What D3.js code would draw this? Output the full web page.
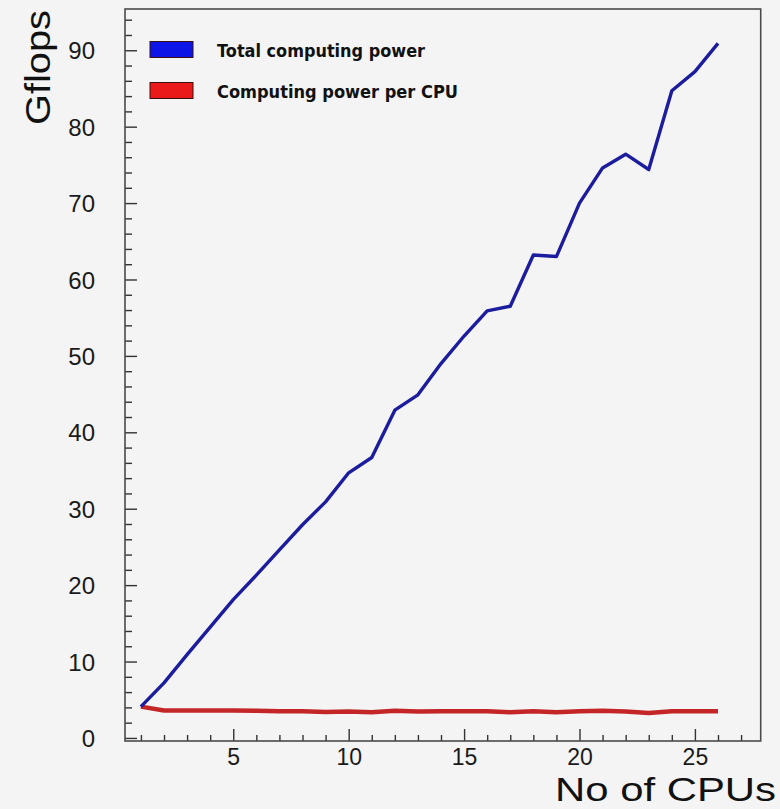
<!DOCTYPE html>
<html>
<head>
<meta charset="utf-8">
<script src="https://cdn.jsdelivr.net/npm/d3@7"></script>
<style>
  html, body { margin: 0; padding: 0; background: #f4f4f4; }
  svg { display: block; }
</style>
</head>
<body>
<svg id="chart" width="780" height="809"></svg>
<script>
// ---- data ----
const cpus = [1,2,3,4,5,6,7,8,9,10,11,12,13,14,15,16,17,18,19,20,21,22,23,24,25,26];
const totalPower = [4.1,7.2,10.9,14.5,18.1,21.3,24.6,27.9,30.9,34.7,36.7,42.9,44.9,49.0,52.6,55.9,56.5,63.2,63.0,70.0,74.6,76.4,74.4,84.7,87.2,90.9];
const perCpuPower = [4.1,3.6,3.6,3.6,3.6,3.55,3.5,3.5,3.4,3.45,3.35,3.55,3.45,3.5,3.5,3.5,3.35,3.5,3.35,3.5,3.55,3.45,3.25,3.5,3.5,3.5];
const xTickValues = [5,10,15,20,25];
const yTickValues = [0,10,20,30,40,50,60,70,80,90];
const seriesNames = ["Total computing power", "Computing power per CPU"];
const seriesColors = ["#1c1c9e", "#c42628"];
const legendFills = ["#0c14e6", "#ea1a1a"];

// ---- layout ----
const svg = d3.select("#chart");
const frame = {left: 125, right: 760.7, top: 9, bottom: 741};
const x = d3.scaleLinear().domain([0.31, 27.85]).range([frame.left, frame.right]);
const y = d3.scaleLinear().domain([-0.4, 95.4]).range([frame.bottom, frame.top]);

svg.append("rect").attr("width", 780).attr("height", 809).attr("fill", "#f4f4f4");

// minor ticks
const xMinor = d3.range(1, 28).filter(v => v % 5 !== 0);
const yMinor = d3.range(0, 96, 2).filter(v => v % 10 !== 0);

const xAxis = d3.axisBottom(x).tickValues(xTickValues).tickSize(-12).tickPadding(8).tickFormat(d3.format("d"));
const xAxisMinor = d3.axisBottom(x).tickValues(xMinor).tickSize(-6).tickFormat("");
const yAxis = d3.axisLeft(y).tickValues(yTickValues).tickSize(-12).tickPadding(30).tickFormat(d3.format("d"));
const yAxisMinor = d3.axisLeft(y).tickValues(yMinor).tickSize(-7).tickFormat("");

function styleAxis(g, size) {
  g.select(".domain").remove();
  g.selectAll(".tick line").attr("stroke", "#333").attr("stroke-width", 1.4);
  g.selectAll(".tick text").attr("fill", "#1a1a1a")
    .style("font-family", "'Liberation Sans', Arial, sans-serif").style("font-size", (size || 24) + "px");
}

svg.append("g").attr("transform", `translate(0,${frame.bottom})`).call(xAxisMinor).call(styleAxis);
svg.append("g").attr("transform", `translate(0,${frame.bottom})`).call(xAxis).call(styleAxis, 23);
svg.append("g").attr("transform", `translate(${frame.left},0)`).call(yAxisMinor).call(styleAxis);
const yg = svg.append("g").attr("transform", `translate(${frame.left},0)`).call(yAxis).call(styleAxis, 24);
yg.selectAll(".tick text").attr("dy", "0.36em");

// frame
svg.append("rect")
  .attr("x", frame.left).attr("y", frame.top)
  .attr("width", frame.right - frame.left).attr("height", frame.bottom - frame.top)
  .attr("fill", "none").attr("stroke", "#4a4a4a").attr("stroke-width", 1.6);

// lines
const line = d3.line().x((d, i) => x(cpus[i])).y(d => y(d));
svg.append("path").datum(perCpuPower).attr("d", line)
  .attr("fill", "none").attr("stroke", seriesColors[1]).attr("stroke-width", 4.5)
  .attr("stroke-linejoin", "round");
svg.append("path").datum(totalPower).attr("d", line)
  .attr("fill", "none").attr("stroke", seriesColors[0]).attr("stroke-width", 3.4)
  .attr("stroke-linejoin", "round");

// legend
const legendY = [49.5, 90.5];
const lengths = [208, 241];
seriesNames.forEach((name, i) => {
  svg.append("rect").attr("x", 150).attr("y", legendY[i] - 8).attr("width", 43).attr("height", 16)
    .attr("fill", legendFills[i]).attr("stroke", "#3a1010").attr("stroke-width", 1);
  svg.append("text").attr("x", 217).attr("y", legendY[i] + 7)
    .attr("textLength", lengths[i]).attr("lengthAdjust", "spacingAndGlyphs")
    .style("font-family", "'DejaVu Sans', sans-serif").style("font-size", "17px")
    .style("font-weight", "bold").attr("fill", "#111").text(name);
});

// axis titles
svg.append("text")
  .attr("transform", "translate(50,10) rotate(-90)")
  .attr("text-anchor", "end")
  .attr("textLength", 115).attr("lengthAdjust", "spacingAndGlyphs")
  .style("font-family", "'Liberation Sans', Arial, sans-serif").style("font-size", "35px")
  .attr("fill", "#111").text("Gflops");

svg.append("text")
  .attr("x", 776).attr("y", 801)
  .attr("text-anchor", "end")
  .attr("textLength", 221).attr("lengthAdjust", "spacingAndGlyphs")
  .style("font-family", "'Liberation Sans', Arial, sans-serif").style("font-size", "33px")
  .attr("fill", "#111").text("No of CPUs");
</script>
</body>
</html>
